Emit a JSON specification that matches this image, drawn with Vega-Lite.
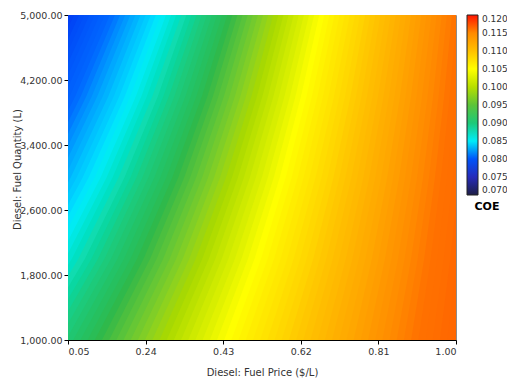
{
"$schema": "https://vega.github.io/schema/vega-lite/v6.json",
"width": 388, "height": 325,
"autosize": {"type": "none"},
"padding": {"left": 68, "top": 15, "right": 51, "bottom": 38},
"config": {"view": {"stroke": "#8c8c8c", "strokeWidth": 1}, "font": "DejaVu Sans"},
"data": {"values": [
{"v":0.0784,"q":1000,"p":-0.4479},{"v":0.0784,"q":2000,"p":-0.2920},{"v":0.0784,"q":3000,"p":-0.1626},{"v":0.0784,"q":4000,"p":-0.0534},{"v":0.0784,"q":5000,"p":0.04},
{"v":0.0787,"q":1000,"p":-0.4303},{"v":0.0787,"q":2000,"p":-0.2760},{"v":0.0787,"q":3000,"p":-0.1480},{"v":0.0787,"q":4000,"p":-0.0399},{"v":0.0787,"q":5000,"p":0.0525},
{"v":0.0791,"q":1000,"p":-0.4127},{"v":0.0791,"q":2000,"p":-0.2601},{"v":0.0791,"q":3000,"p":-0.1333},{"v":0.0791,"q":4000,"p":-0.0264},{"v":0.0791,"q":5000,"p":0.065},
{"v":0.0795,"q":1000,"p":-0.3951},{"v":0.0795,"q":2000,"p":-0.2441},{"v":0.0795,"q":3000,"p":-0.1187},{"v":0.0795,"q":4000,"p":-0.0129},{"v":0.0795,"q":5000,"p":0.0775},
{"v":0.0798,"q":1000,"p":-0.3775},{"v":0.0798,"q":2000,"p":-0.2281},{"v":0.0798,"q":3000,"p":-0.1041},{"v":0.0798,"q":4000,"p":0.0005},{"v":0.0798,"q":5000,"p":0.09},
{"v":0.0802,"q":1000,"p":-0.3599},{"v":0.0802,"q":2000,"p":-0.2121},{"v":0.0802,"q":3000,"p":-0.0895},{"v":0.0802,"q":4000,"p":0.0140},{"v":0.0802,"q":5000,"p":0.1025},
{"v":0.0805,"q":1000,"p":-0.3423},{"v":0.0805,"q":2000,"p":-0.1962},{"v":0.0805,"q":3000,"p":-0.0749},{"v":0.0805,"q":4000,"p":0.0275},{"v":0.0805,"q":5000,"p":0.115},
{"v":0.0809,"q":1000,"p":-0.3246},{"v":0.0809,"q":2000,"p":-0.1802},{"v":0.0809,"q":3000,"p":-0.0602},{"v":0.0809,"q":4000,"p":0.0410},{"v":0.0809,"q":5000,"p":0.1275},
{"v":0.0812,"q":1000,"p":-0.3070},{"v":0.0812,"q":2000,"p":-0.1642},{"v":0.0812,"q":3000,"p":-0.0456},{"v":0.0812,"q":4000,"p":0.0544},{"v":0.0812,"q":5000,"p":0.14},
{"v":0.0816,"q":1000,"p":-0.2894},{"v":0.0816,"q":2000,"p":-0.1482},{"v":0.0816,"q":3000,"p":-0.0310},{"v":0.0816,"q":4000,"p":0.0679},{"v":0.0816,"q":5000,"p":0.1525},
{"v":0.0819,"q":1000,"p":-0.2718},{"v":0.0819,"q":2000,"p":-0.1323},{"v":0.0819,"q":3000,"p":-0.0164},{"v":0.0819,"q":4000,"p":0.0814},{"v":0.0819,"q":5000,"p":0.165},
{"v":0.0823,"q":1000,"p":-0.2542},{"v":0.0823,"q":2000,"p":-0.1163},{"v":0.0823,"q":3000,"p":-0.0018},{"v":0.0823,"q":4000,"p":0.0949},{"v":0.0823,"q":5000,"p":0.1775},
{"v":0.0826,"q":1000,"p":-0.2366},{"v":0.0826,"q":2000,"p":-0.1003},{"v":0.0826,"q":3000,"p":0.0129},{"v":0.0826,"q":4000,"p":0.1084},{"v":0.0826,"q":5000,"p":0.19},
{"v":0.0830,"q":1000,"p":-0.2190},{"v":0.0830,"q":2000,"p":-0.0843},{"v":0.0830,"q":3000,"p":0.0275},{"v":0.0830,"q":4000,"p":0.1218},{"v":0.0830,"q":5000,"p":0.2025},
{"v":0.0833,"q":1000,"p":-0.2014},{"v":0.0833,"q":2000,"p":-0.0684},{"v":0.0833,"q":3000,"p":0.0421},{"v":0.0833,"q":4000,"p":0.1353},{"v":0.0833,"q":5000,"p":0.215},
{"v":0.0837,"q":1000,"p":-0.1838},{"v":0.0837,"q":2000,"p":-0.0524},{"v":0.0837,"q":3000,"p":0.0567},{"v":0.0837,"q":4000,"p":0.1488},{"v":0.0837,"q":5000,"p":0.2275},
{"v":0.0840,"q":1000,"p":-0.1662},{"v":0.0840,"q":2000,"p":-0.0364},{"v":0.0840,"q":3000,"p":0.0713},{"v":0.0840,"q":4000,"p":0.1623},{"v":0.0840,"q":5000,"p":0.24},
{"v":0.0844,"q":1000,"p":-0.1486},{"v":0.0844,"q":2000,"p":-0.0204},{"v":0.0844,"q":3000,"p":0.0860},{"v":0.0844,"q":4000,"p":0.1757},{"v":0.0844,"q":5000,"p":0.2525},
{"v":0.0848,"q":1000,"p":-0.1310},{"v":0.0848,"q":2000,"p":-0.0045},{"v":0.0848,"q":3000,"p":0.1006},{"v":0.0848,"q":4000,"p":0.1892},{"v":0.0848,"q":5000,"p":0.265},
{"v":0.0852,"q":1000,"p":-0.1134},{"v":0.0852,"q":2000,"p":0.0115},{"v":0.0852,"q":3000,"p":0.1152},{"v":0.0852,"q":4000,"p":0.2027},{"v":0.0852,"q":5000,"p":0.2775},
{"v":0.0858,"q":1000,"p":-0.0958},{"v":0.0858,"q":2000,"p":0.0275},{"v":0.0858,"q":3000,"p":0.1298},{"v":0.0858,"q":4000,"p":0.2162},{"v":0.0858,"q":5000,"p":0.29},
{"v":0.0864,"q":1000,"p":-0.0782},{"v":0.0864,"q":2000,"p":0.0434},{"v":0.0864,"q":3000,"p":0.1444},{"v":0.0864,"q":4000,"p":0.2297},{"v":0.0864,"q":5000,"p":0.3025},
{"v":0.0869,"q":1000,"p":-0.0606},{"v":0.0869,"q":2000,"p":0.0594},{"v":0.0869,"q":3000,"p":0.1591},{"v":0.0869,"q":4000,"p":0.2431},{"v":0.0869,"q":5000,"p":0.315},
{"v":0.0875,"q":1000,"p":-0.0430},{"v":0.0875,"q":2000,"p":0.0754},{"v":0.0875,"q":3000,"p":0.1737},{"v":0.0875,"q":4000,"p":0.2566},{"v":0.0875,"q":5000,"p":0.3275},
{"v":0.0881,"q":1000,"p":-0.0254},{"v":0.0881,"q":2000,"p":0.0914},{"v":0.0881,"q":3000,"p":0.1883},{"v":0.0881,"q":4000,"p":0.2701},{"v":0.0881,"q":5000,"p":0.34},
{"v":0.0887,"q":1000,"p":-0.0077},{"v":0.0887,"q":2000,"p":0.1073},{"v":0.0887,"q":3000,"p":0.2029},{"v":0.0887,"q":4000,"p":0.2836},{"v":0.0887,"q":5000,"p":0.3525},
{"v":0.0893,"q":1000,"p":0.0099},{"v":0.0893,"q":2000,"p":0.1233},{"v":0.0893,"q":3000,"p":0.2175},{"v":0.0893,"q":4000,"p":0.2970},{"v":0.0893,"q":5000,"p":0.365},
{"v":0.0899,"q":1000,"p":0.0275},{"v":0.0899,"q":2000,"p":0.1393},{"v":0.0899,"q":3000,"p":0.2322},{"v":0.0899,"q":4000,"p":0.3105},{"v":0.0899,"q":5000,"p":0.3775},
{"v":0.0905,"q":1000,"p":0.0451},{"v":0.0905,"q":2000,"p":0.1553},{"v":0.0905,"q":3000,"p":0.2468},{"v":0.0905,"q":4000,"p":0.3240},{"v":0.0905,"q":5000,"p":0.39},
{"v":0.0911,"q":1000,"p":0.0627},{"v":0.0911,"q":2000,"p":0.1712},{"v":0.0911,"q":3000,"p":0.2614},{"v":0.0911,"q":4000,"p":0.3375},{"v":0.0911,"q":5000,"p":0.4025},
{"v":0.0916,"q":1000,"p":0.0803},{"v":0.0916,"q":2000,"p":0.1872},{"v":0.0916,"q":3000,"p":0.2760},{"v":0.0916,"q":4000,"p":0.3509},{"v":0.0916,"q":5000,"p":0.415},
{"v":0.0922,"q":1000,"p":0.0979},{"v":0.0922,"q":2000,"p":0.2032},{"v":0.0922,"q":3000,"p":0.2906},{"v":0.0922,"q":4000,"p":0.3644},{"v":0.0922,"q":5000,"p":0.4275},
{"v":0.0928,"q":1000,"p":0.1155},{"v":0.0928,"q":2000,"p":0.2192},{"v":0.0928,"q":3000,"p":0.3053},{"v":0.0928,"q":4000,"p":0.3779},{"v":0.0928,"q":5000,"p":0.44},
{"v":0.0935,"q":1000,"p":0.1331},{"v":0.0935,"q":2000,"p":0.2351},{"v":0.0935,"q":3000,"p":0.3199},{"v":0.0935,"q":4000,"p":0.3914},{"v":0.0935,"q":5000,"p":0.4525},
{"v":0.0942,"q":1000,"p":0.1507},{"v":0.0942,"q":2000,"p":0.2511},{"v":0.0942,"q":3000,"p":0.3345},{"v":0.0942,"q":4000,"p":0.4049},{"v":0.0942,"q":5000,"p":0.465},
{"v":0.0948,"q":1000,"p":0.1683},{"v":0.0948,"q":2000,"p":0.2671},{"v":0.0948,"q":3000,"p":0.3491},{"v":0.0948,"q":4000,"p":0.4183},{"v":0.0948,"q":5000,"p":0.4775},
{"v":0.0955,"q":1000,"p":0.1859},{"v":0.0955,"q":2000,"p":0.2831},{"v":0.0955,"q":3000,"p":0.3637},{"v":0.0955,"q":4000,"p":0.4318},{"v":0.0955,"q":5000,"p":0.49},
{"v":0.0962,"q":1000,"p":0.2035},{"v":0.0962,"q":2000,"p":0.2990},{"v":0.0962,"q":3000,"p":0.3784},{"v":0.0962,"q":4000,"p":0.4453},{"v":0.0962,"q":5000,"p":0.5025},
{"v":0.0969,"q":1000,"p":0.2211},{"v":0.0969,"q":2000,"p":0.3150},{"v":0.0969,"q":3000,"p":0.3930},{"v":0.0969,"q":4000,"p":0.4588},{"v":0.0969,"q":5000,"p":0.515},
{"v":0.0976,"q":1000,"p":0.2387},{"v":0.0976,"q":2000,"p":0.3310},{"v":0.0976,"q":3000,"p":0.4076},{"v":0.0976,"q":4000,"p":0.4722},{"v":0.0976,"q":5000,"p":0.5275},
{"v":0.0983,"q":1000,"p":0.2563},{"v":0.0983,"q":2000,"p":0.3470},{"v":0.0983,"q":3000,"p":0.4222},{"v":0.0983,"q":4000,"p":0.4857},{"v":0.0983,"q":5000,"p":0.54},
{"v":0.0989,"q":1000,"p":0.2739},{"v":0.0989,"q":2000,"p":0.3629},{"v":0.0989,"q":3000,"p":0.4368},{"v":0.0989,"q":4000,"p":0.4992},{"v":0.0989,"q":5000,"p":0.5525},
{"v":0.0996,"q":1000,"p":0.2915},{"v":0.0996,"q":2000,"p":0.3789},{"v":0.0996,"q":3000,"p":0.4515},{"v":0.0996,"q":4000,"p":0.5127},{"v":0.0996,"q":5000,"p":0.565},
{"v":0.1003,"q":1000,"p":0.3092},{"v":0.1003,"q":2000,"p":0.3949},{"v":0.1003,"q":3000,"p":0.4661},{"v":0.1003,"q":4000,"p":0.5261},{"v":0.1003,"q":5000,"p":0.5775},
{"v":0.1010,"q":1000,"p":0.3268},{"v":0.1010,"q":2000,"p":0.4109},{"v":0.1010,"q":3000,"p":0.4807},{"v":0.1010,"q":4000,"p":0.5396},{"v":0.1010,"q":5000,"p":0.59},
{"v":0.1017,"q":1000,"p":0.3444},{"v":0.1017,"q":2000,"p":0.4268},{"v":0.1017,"q":3000,"p":0.4953},{"v":0.1017,"q":4000,"p":0.5531},{"v":0.1017,"q":5000,"p":0.6025},
{"v":0.1023,"q":1000,"p":0.3620},{"v":0.1023,"q":2000,"p":0.4428},{"v":0.1023,"q":3000,"p":0.5099},{"v":0.1023,"q":4000,"p":0.5666},{"v":0.1023,"q":5000,"p":0.615},
{"v":0.1030,"q":1000,"p":0.3796},{"v":0.1030,"q":2000,"p":0.4588},{"v":0.1030,"q":3000,"p":0.5246},{"v":0.1030,"q":4000,"p":0.5801},{"v":0.1030,"q":5000,"p":0.6275},
{"v":0.1037,"q":1000,"p":0.3972},{"v":0.1037,"q":2000,"p":0.4748},{"v":0.1037,"q":3000,"p":0.5392},{"v":0.1037,"q":4000,"p":0.5935},{"v":0.1037,"q":5000,"p":0.64},
{"v":0.1044,"q":1000,"p":0.4148},{"v":0.1044,"q":2000,"p":0.4907},{"v":0.1044,"q":3000,"p":0.5538},{"v":0.1044,"q":4000,"p":0.6070},{"v":0.1044,"q":5000,"p":0.6525},
{"v":0.1050,"q":1000,"p":0.4324},{"v":0.1050,"q":2000,"p":0.5067},{"v":0.1050,"q":3000,"p":0.5684},{"v":0.1050,"q":4000,"p":0.6205},{"v":0.1050,"q":5000,"p":0.665},
{"v":0.1055,"q":1000,"p":0.4500},{"v":0.1055,"q":2000,"p":0.5227},{"v":0.1055,"q":3000,"p":0.5830},{"v":0.1055,"q":4000,"p":0.6340},{"v":0.1055,"q":5000,"p":0.6775},
{"v":0.1059,"q":1000,"p":0.4676},{"v":0.1059,"q":2000,"p":0.5387},{"v":0.1059,"q":3000,"p":0.5977},{"v":0.1059,"q":4000,"p":0.6474},{"v":0.1059,"q":5000,"p":0.69},
{"v":0.1064,"q":1000,"p":0.4852},{"v":0.1064,"q":2000,"p":0.5546},{"v":0.1064,"q":3000,"p":0.6123},{"v":0.1064,"q":4000,"p":0.6609},{"v":0.1064,"q":5000,"p":0.7025},
{"v":0.1068,"q":1000,"p":0.5028},{"v":0.1068,"q":2000,"p":0.5706},{"v":0.1068,"q":3000,"p":0.6269},{"v":0.1068,"q":4000,"p":0.6744},{"v":0.1068,"q":5000,"p":0.715},
{"v":0.1072,"q":1000,"p":0.5204},{"v":0.1072,"q":2000,"p":0.5866},{"v":0.1072,"q":3000,"p":0.6415},{"v":0.1072,"q":4000,"p":0.6879},{"v":0.1072,"q":5000,"p":0.7275},
{"v":0.1077,"q":1000,"p":0.5380},{"v":0.1077,"q":2000,"p":0.6026},{"v":0.1077,"q":3000,"p":0.6561},{"v":0.1077,"q":4000,"p":0.7013},{"v":0.1077,"q":5000,"p":0.74},
{"v":0.1081,"q":1000,"p":0.5556},{"v":0.1081,"q":2000,"p":0.6185},{"v":0.1081,"q":3000,"p":0.6708},{"v":0.1081,"q":4000,"p":0.7148},{"v":0.1081,"q":5000,"p":0.7525},
{"v":0.1085,"q":1000,"p":0.5732},{"v":0.1085,"q":2000,"p":0.6345},{"v":0.1085,"q":3000,"p":0.6854},{"v":0.1085,"q":4000,"p":0.7283},{"v":0.1085,"q":5000,"p":0.765},
{"v":0.1090,"q":1000,"p":0.5908},{"v":0.1090,"q":2000,"p":0.6505},{"v":0.1090,"q":3000,"p":0.7000},{"v":0.1090,"q":4000,"p":0.7418},{"v":0.1090,"q":5000,"p":0.7775},
{"v":0.1094,"q":1000,"p":0.6085},{"v":0.1094,"q":2000,"p":0.6665},{"v":0.1094,"q":3000,"p":0.7146},{"v":0.1094,"q":4000,"p":0.7553},{"v":0.1094,"q":5000,"p":0.79},
{"v":0.1098,"q":1000,"p":0.6261},{"v":0.1098,"q":2000,"p":0.6824},{"v":0.1098,"q":3000,"p":0.7292},{"v":0.1098,"q":4000,"p":0.7687},{"v":0.1098,"q":5000,"p":0.8025},
{"v":0.1103,"q":1000,"p":0.6437},{"v":0.1103,"q":2000,"p":0.6984},{"v":0.1103,"q":3000,"p":0.7439},{"v":0.1103,"q":4000,"p":0.7822},{"v":0.1103,"q":5000,"p":0.815},
{"v":0.1107,"q":1000,"p":0.6613},{"v":0.1107,"q":2000,"p":0.7144},{"v":0.1107,"q":3000,"p":0.7585},{"v":0.1107,"q":4000,"p":0.7957},{"v":0.1107,"q":5000,"p":0.8275},
{"v":0.1111,"q":1000,"p":0.6789},{"v":0.1111,"q":2000,"p":0.7303},{"v":0.1111,"q":3000,"p":0.7731},{"v":0.1111,"q":4000,"p":0.8092},{"v":0.1111,"q":5000,"p":0.84},
{"v":0.1116,"q":1000,"p":0.6965},{"v":0.1116,"q":2000,"p":0.7463},{"v":0.1116,"q":3000,"p":0.7877},{"v":0.1116,"q":4000,"p":0.8226},{"v":0.1116,"q":5000,"p":0.8525},
{"v":0.1120,"q":1000,"p":0.7141},{"v":0.1120,"q":2000,"p":0.7623},{"v":0.1120,"q":3000,"p":0.8023},{"v":0.1120,"q":4000,"p":0.8361},{"v":0.1120,"q":5000,"p":0.865},
{"v":0.1124,"q":1000,"p":0.7317},{"v":0.1124,"q":2000,"p":0.7783},{"v":0.1124,"q":3000,"p":0.8170},{"v":0.1124,"q":4000,"p":0.8496},{"v":0.1124,"q":5000,"p":0.8775},
{"v":0.1129,"q":1000,"p":0.7493},{"v":0.1129,"q":2000,"p":0.7942},{"v":0.1129,"q":3000,"p":0.8316},{"v":0.1129,"q":4000,"p":0.8631},{"v":0.1129,"q":5000,"p":0.89},
{"v":0.1133,"q":1000,"p":0.7669},{"v":0.1133,"q":2000,"p":0.8102},{"v":0.1133,"q":3000,"p":0.8462},{"v":0.1133,"q":4000,"p":0.8766},{"v":0.1133,"q":5000,"p":0.9025},
{"v":0.1138,"q":1000,"p":0.7845},{"v":0.1138,"q":2000,"p":0.8262},{"v":0.1138,"q":3000,"p":0.8608},{"v":0.1138,"q":4000,"p":0.8900},{"v":0.1138,"q":5000,"p":0.915},
{"v":0.1142,"q":1000,"p":0.8021},{"v":0.1142,"q":2000,"p":0.8422},{"v":0.1142,"q":3000,"p":0.8754},{"v":0.1142,"q":4000,"p":0.9035},{"v":0.1142,"q":5000,"p":0.9275},
{"v":0.1146,"q":1000,"p":0.8197},{"v":0.1146,"q":2000,"p":0.8581},{"v":0.1146,"q":3000,"p":0.8901},{"v":0.1146,"q":4000,"p":0.9170},{"v":0.1146,"q":5000,"p":0.94},
{"v":0.1151,"q":1000,"p":0.8373},{"v":0.1151,"q":2000,"p":0.8741},{"v":0.1151,"q":3000,"p":0.9047},{"v":0.1151,"q":4000,"p":0.9305},{"v":0.1151,"q":5000,"p":0.9525},
{"v":0.1155,"q":1000,"p":0.8549},{"v":0.1155,"q":2000,"p":0.8901},{"v":0.1155,"q":3000,"p":0.9193},{"v":0.1155,"q":4000,"p":0.9439},{"v":0.1155,"q":5000,"p":0.965},
{"v":0.1159,"q":1000,"p":0.8725},{"v":0.1159,"q":2000,"p":0.9061},{"v":0.1159,"q":3000,"p":0.9339},{"v":0.1159,"q":4000,"p":0.9574},{"v":0.1159,"q":5000,"p":0.9775},
{"v":0.1164,"q":1000,"p":0.8901},{"v":0.1164,"q":2000,"p":0.9220},{"v":0.1164,"q":3000,"p":0.9485},{"v":0.1164,"q":4000,"p":0.9709},{"v":0.1164,"q":5000,"p":0.99},
{"v":0.1166,"q":1000,"p":0.9077},{"v":0.1166,"q":2000,"p":0.9380},{"v":0.1166,"q":3000,"p":0.9632},{"v":0.1166,"q":4000,"p":0.9844},{"v":0.1166,"q":5000,"p":1.0025},
{"v":0.1167,"q":1000,"p":0.9254},{"v":0.1167,"q":2000,"p":0.9540},{"v":0.1167,"q":3000,"p":0.9778},{"v":0.1167,"q":4000,"p":0.9978},{"v":0.1167,"q":5000,"p":1.015},
{"v":0.1168,"q":1000,"p":0.9430},{"v":0.1168,"q":2000,"p":0.9700},{"v":0.1168,"q":3000,"p":0.9924},{"v":0.1168,"q":4000,"p":1.0113},{"v":0.1168,"q":5000,"p":1.0275},
{"v":0.1170,"q":1000,"p":0.9606},{"v":0.1170,"q":2000,"p":0.9859},{"v":0.1170,"q":3000,"p":1.0070},{"v":0.1170,"q":4000,"p":1.0248},{"v":0.1170,"q":5000,"p":1.04},
{"v":0.1171,"q":1000,"p":0.9782},{"v":0.1171,"q":2000,"p":1.0019},{"v":0.1171,"q":3000,"p":1.0216},{"v":0.1171,"q":4000,"p":1.0383},{"v":0.1171,"q":5000,"p":1.0525},
{"v":0.1172,"q":1000,"p":0.9958},{"v":0.1172,"q":2000,"p":1.0179},{"v":0.1172,"q":3000,"p":1.0363},{"v":0.1172,"q":4000,"p":1.0517},{"v":0.1172,"q":5000,"p":1.065},
{"v":0.1173,"q":1000,"p":1.0134},{"v":0.1173,"q":2000,"p":1.0339},{"v":0.1173,"q":3000,"p":1.0509},{"v":0.1173,"q":4000,"p":1.0652},{"v":0.1173,"q":5000,"p":1.0775}
]},
"mark": {"type": "area", "orient": "horizontal", "interpolate": "linear", "clip": true},
"encoding": {
  "y": {"field": "q", "type": "quantitative",
        "scale": {"domain": [1000, 5000], "nice": false, "zero": false},
        "axis": {"values": [1000, 1800, 2600, 3400, 4200, 5000], "format": ",.2f", "title": "Diesel: Fuel Quantity (L)",
                 "grid": false, "domainColor": "#000", "tickColor": "#000", "tickSize": 4, "labelPadding": 2,
                 "labelColor": "#333", "labelFontSize": 9.5, "labelFont": "DejaVu Sans",
                 "titleFont": "DejaVu Sans", "titleFontSize": 10, "titleFontWeight": "normal", "titleColor": "#333",
                 "titleX": -46, "titleY": 154}},
  "x": {"field": "p", "type": "quantitative", "stack": null,
        "scale": {"domain": [0.05, 1], "nice": false, "zero": false},
        "axis": {"values": [0.05, 0.24, 0.43, 0.62, 0.81, 1.0], "format": ".2f", "title": "Diesel: Fuel Price ($/L)",
                 "grid": false, "domainColor": "#000", "tickColor": "#000", "tickSize": 4, "labelPadding": 2,
                 "labelColor": "#333", "labelFontSize": 9.5, "labelFont": "DejaVu Sans",
                 "titleFont": "DejaVu Sans", "titleFontSize": 10, "titleFontWeight": "normal", "titleColor": "#333", "titlePadding": 12}},
  "x2": {"datum": 1.0},
  "detail": {"field": "v", "type": "nominal"},
  "color": {"field": "v", "type": "quantitative",
        "scale": {"domain": [0.070, 0.074, 0.078, 0.0815, 0.083, 0.085, 0.0875, 0.0895, 0.093, 0.099, 0.105, 0.110, 0.115, 0.120],
                  "range": ["#1e1e46", "#2828a8", "#1034f0", "#0068ff", "#00a8ff", "#00ecf8", "#10dcb0", "#1ccc80", "#30b848", "#a8d800", "#ffff00", "#ffc000", "#ff8a00", "#ff1400"]},
        "legend": {"values": [0.07, 0.075, 0.08, 0.085, 0.09, 0.095, 0.1, 0.105, 0.11, 0.115, 0.12], "format": ".3f",
                   "title": "COE", "titleOrient": "bottom", "titleAnchor": "middle", "titleFontWeight": "bold", "titleFontSize": 11,
                   "titleColor": "#000", "titleFont": "DejaVu Sans", "gradientLength": 180, "gradientThickness": 11,
                   "labelFontSize": 9, "labelColor": "#333", "labelFont": "DejaVu Sans", "offset": 11, "padding": 0,
                   "gradientStrokeColor": "#222", "gradientStrokeWidth": 1, "labelOffset": 4, "direction": "vertical", "labelOverlap": false}}
}
}
